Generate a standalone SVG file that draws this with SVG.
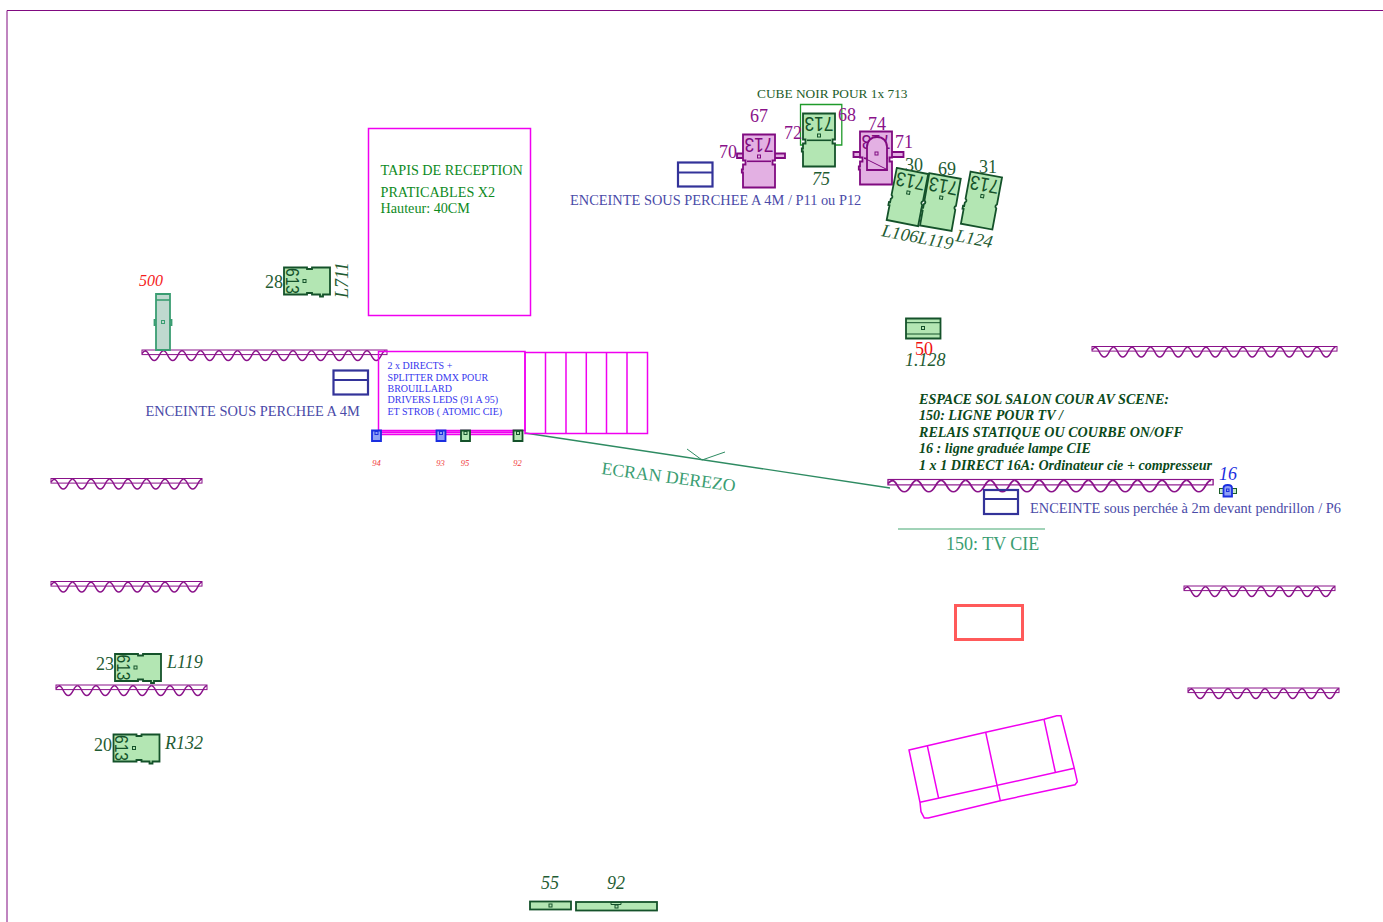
<svg xmlns="http://www.w3.org/2000/svg" width="1383" height="922" viewBox="0 0 1383 922">
<style>
text{font-family:"Liberation Serif","Times New Roman",serif}
.gr{color:#14522a;fill:#b3e6b3}
.pk{color:#800a80;fill:#e3b0e3}
.bl{color:#1a2ee0;fill:#8fa0f5}
.tl{color:#3a9d72;fill:#bfd9cf}
.b{stroke:currentColor;stroke-width:1.8;stroke-linejoin:miter}
.th{fill:none;stroke:currentColor;stroke-width:1.6}
.sq{fill:none;stroke:currentColor;stroke-width:1}
.lb{fill:currentColor;stroke:none;font-family:"Liberation Sans",Arial,sans-serif}
.wave{fill:none;stroke:#8a128a;stroke-width:1.4}
.band{fill:none;stroke:#8a128a;stroke-width:1}
.mg{fill:none;stroke:#f000f0;stroke-width:1.5}
.spk{fill:none;stroke:#333399;stroke-width:2.2}
.pt{font-size:18px;fill:#8a128a}
.dk{font-size:18px;fill:#1f5c33}
.it{font-size:18px;font-style:italic;fill:#1f5c33}
.ind{font-size:14.4px;fill:#4a4aa8}
.red{font-size:8.5px;font-style:italic;fill:#f03a3a}
.blt{font-size:10px;fill:#3636ee}
.note{font-size:14.1px;font-weight:bold;font-style:italic;fill:#0b4a1a}
.tp{font-size:14.2px;fill:#0e8a1e}
</style>
<defs>
<path id="sc" class="wave" d="M0,0.8c4,0 4.6,9.7 9.25,9.7c4.65,0 5.25,-9.7 9.25,-9.7"/>
<g id="w4"><use href="#sc"/><use href="#sc" x="18.5"/><use href="#sc" x="37"/><use href="#sc" x="55.5"/></g>
<g id="c8"><rect class="band" x="0" y="0" width="151" height="4.6"/><path class="wave" d="M0,3.5Q2,0.8 4,0.8"/><use href="#w4" x="3"/><use href="#w4" x="77"/></g>
<g id="c13"><rect class="band" x="0" y="0" width="245" height="4.6"/><path class="wave" d="M0,3.5Q2,0.8 4,0.8"/><use href="#w4" x="3"/><use href="#w4" x="77"/><use href="#w4" x="151"/><use href="#sc" x="225"/></g>
<g id="p713">
<path class="b" d="M-16,0H16V26H13.5V30H16V53H-16V38H-17.2V35H-16V30H-13.5V26H-16Z"/>
<path class="th" d="M-12,26.8H12"/>
<rect class="sq" x="-1.500" y="20.500" width="3" height="3"/>
<text class="lb" transform="translate(0,3.500) rotate(180)" text-anchor="middle" font-size="20" textLength="29" lengthAdjust="spacingAndGlyphs">713</text>
</g>
<g id="p713b">
<path class="b" d="M-16,0H16V27.500Q13.500,29.500 16,31.500V53H-16V38H-17.200V35H-16V31.500Q-13.500,29.500 -16,27.500Z"/>
<rect class="sq" x="-1.500" y="20.500" width="3" height="3"/>
<text class="lb" transform="translate(0,3.500) rotate(180)" text-anchor="middle" font-size="20" textLength="29" lengthAdjust="spacingAndGlyphs">713</text>
</g>
<g id="p613">
<path class="b" d="M0,-13.500H23V-12H28V-13.500H46V13.500H39V15.500H36V13.500H28V12H23V13.500H0Z"/>
<rect class="sq" x="19" y="-1.500" width="3" height="3"/>
<text class="lb" transform="translate(1.500,0) rotate(90)" text-anchor="middle" font-size="19" textLength="26" lengthAdjust="spacingAndGlyphs">613</text>
</g>
<g id="mini">
<path class="b" d="M-4.500,0H4.500V10.500H-4.500Z" stroke-width="1.400"/>
<rect class="sq" x="-1.500" y="1" width="3" height="3"/>
</g>
</defs>
<g id="frame"><path d="M7,922V10.500H1383" fill="none" stroke="#800a80" stroke-width="1"/></g>
<g id="curtains">
<use id="curtain-1" href="#c13" x="142" y="350"/>
<use id="curtain-2" href="#c13" x="1092" y="346.500"/>
<use id="curtain-3" href="#c8" x="51" y="478.500"/>
<use id="curtain-4" href="#c8" x="51" y="581.500"/>
<use id="curtain-5" href="#c8" x="56" y="685"/>
<use id="curtain-6" href="#c13" transform="translate(888,479.500) scale(1.327,1.170)"/>
<use id="curtain-7" href="#c8" x="1184" y="586"/>
<use id="curtain-8" href="#c8" x="1188" y="688"/>
</g>
<g id="connectors">
<path d="M525,433L890,488" fill="none" stroke="#2e8b62" stroke-width="1.300"/>
<path d="M687,449L702,460L725,452" fill="none" stroke="#2e8b62" stroke-width="1"/>
</g>
<g id="tapis">
<rect class="mg" x="368.500" y="128.500" width="162" height="187"/>
<text class="tp" x="380.500" y="174.500">TAPIS DE RECEPTION</text>
<text class="tp" x="380.500" y="197">PRATICABLES X2</text>
<text class="tp" x="380.500" y="213">Hauteur: 40CM</text>
</g>
<g id="scene">
<rect class="mg" x="378.500" y="351.500" width="146.500" height="79"/>
<path class="mg" d="M378,430.800H523M378,432.600H523M378,434.500H523" stroke-width="1"/>
<rect class="mg" x="525" y="352.500" width="122.500" height="81"/>
<path class="mg" d="M545.500,352.500V433.500M566,352.500V433.500M586.300,352.500V433.500M606.500,352.500V433.500M627,352.500V433.500"/>
<text class="blt" x="387.500" y="369">2 x DIRECTS +</text>
<text class="blt" x="387.500" y="381">SPLITTER DMX POUR</text>
<text class="blt" x="387.500" y="392">BROUILLARD</text>
<text class="blt" x="387.500" y="403">DRIVERS LEDS (91 A 95)</text>
<text class="blt" x="387.500" y="415">ET STROB ( ATOMIC CIE)</text>
</g>
<g id="u94" class="bl"><use href="#mini" x="376.500" y="430.500"/><text class="red" x="376.500" y="466" text-anchor="middle">94</text></g>
<g id="u93" class="bl"><use href="#mini" x="441" y="430.500"/><text class="red" x="440.500" y="466" text-anchor="middle">93</text></g>
<g id="u95" class="gr"><use href="#mini" x="465.500" y="430.500"/><text class="red" x="465" y="466" text-anchor="middle">95</text></g>
<g id="u92" class="gr"><use href="#mini" x="518" y="430.500"/><text class="red" x="517.500" y="466" text-anchor="middle">92</text></g>
<g id="cube"><path d="M805,145H800.500V104.500H841.800V145H833" fill="none" stroke="#1f9a2a" stroke-width="1.300"/>
<text x="757" y="98" font-size="13.350" fill="#1d5c2a">CUBE NOIR POUR 1x 713</text></g>
<g id="n67" class="pk">
<path class="b" d="M737,153.500H785V158H737Z"/>
<use href="#p713" x="759" y="134.500"/>
<text class="pt" x="750" y="122">67</text><text class="pt" x="719" y="158">70</text>
</g>
<g id="n75" class="gr">
<use href="#p713" x="819" y="113.500"/>
<text class="pt" x="784" y="139">72</text><text class="pt" x="838" y="121">68</text>
<text class="it" x="812" y="185">75</text>
</g>
<g id="n74" class="pk">
<path class="b" d="M853.500,152H903.500V157H853.500Z"/>
<use href="#p713" x="876" y="131.500"/>
<path class="b" d="M867,170V147C867,141 871,137 877,137C883,137 887,141 887,147V170Z"/>
<path d="M864,158L888,170" fill="none" stroke="currentColor" stroke-width="1"/>
<rect class="sq" x="875" y="152" width="3" height="3"/>
<text class="pt" x="868" y="130">74</text><text class="pt" x="895" y="148">71</text>
</g>
<g id="n30" class="gr"><use href="#p713b" transform="translate(912.500,171) rotate(11)"/><text class="dk" x="905" y="171">30</text>
<text class="it" transform="translate(881,236) rotate(11)">L106</text></g>
<g id="n69" class="gr"><use href="#p713b" transform="translate(945,176) rotate(10)"/><text class="dk" x="938" y="175">69</text>
<text class="it" transform="translate(917,243) rotate(11)">L119</text></g>
<g id="n31" class="gr"><use href="#p713b" transform="translate(986.300,174.500) rotate(10.500)"/><text class="dk" x="979" y="173">31</text>
<text class="it" transform="translate(955,241) rotate(11)">L124</text></g>
<g id="spk1"><rect class="spk" x="678" y="162.500" width="34.500" height="24"/><path class="spk" d="M678,172.500H712.500" stroke-width="1.300"/>
<text class="ind" x="570" y="205">ENCEINTE SOUS PERCHEE A 4M / P11 ou P12</text></g>
<g id="spk2"><rect class="spk" x="333.500" y="370.500" width="34.500" height="24"/><path class="spk" d="M333.500,380H368" stroke-width="1.300"/>
<text class="ind" x="145.500" y="416">ENCEINTE SOUS PERCHEE A 4M</text></g>
<g id="spk3"><rect class="spk" x="984" y="490" width="34" height="24"/><path class="spk" d="M984,499H1018" stroke-width="1.300"/>
<text class="ind" x="1030" y="513">ENCEINTE sous perchée à 2m devant pendrillon / P6</text></g>
<g id="n500" class="tl">
<path class="b" d="M154.500,320H171.500V325H154.500Z" stroke-width="1"/>
<path class="b" d="M156,294H170V350H156Z"/><path class="th" d="M156,300H170"/>
<rect class="sq" x="161.500" y="320.500" width="3" height="3"/>
<text x="139" y="286" font-size="16" font-style="italic" fill="#f51c1c">500</text>
</g>
<g id="n28" class="gr"><use href="#p613" x="284" y="281"/><text class="dk" x="265" y="288">28</text>
<text class="it" transform="translate(348,298) rotate(-90)">L711</text></g>
<g id="n23" class="gr"><use href="#p613" x="115" y="667.500"/><text class="dk" x="96" y="670">23</text>
<text class="it" x="167" y="668">L119</text></g>
<g id="n20" class="gr"><use href="#p613" x="113.500" y="748"/><text class="dk" x="94" y="751">20</text>
<text class="it" x="165" y="749">R132</text></g>
<g id="n50" class="gr">
<path class="b" d="M906,318.500H940.500V338.500H906Z"/><path class="sq" d="M906,322.700H940.500M906,334H940.500"/>
<rect class="sq" x="921.500" y="326.500" width="3" height="3"/>
<text x="915" y="355" font-size="18" fill="#f01010">50</text>
<text class="it" x="905" y="366">1.128</text>
</g>
<g id="note">
<text class="note" x="919" y="404">ESPACE SOL SALON COUR AV SCENE:</text>
<text class="note" x="919" y="420">150: LIGNE POUR TV /</text>
<text class="note" x="919" y="437">RELAIS STATIQUE OU COURBE ON/OFF</text>
<text class="note" x="919" y="453">16 : ligne graduée lampe CIE</text>
<text class="note" x="919" y="470">1 x 1 DIRECT 16A: Ordinateur cie + compresseur</text>
</g>
<g id="n16" class="bl">
<rect x="1219.500" y="488.500" width="17" height="5" fill="#c8e8c8" stroke="#1b5e2a" stroke-width="1"/>
<path class="b" d="M1223.500,496.500V488C1223.500,484 1232,484 1232,488V496.500Z" stroke-width="1"/>
<rect class="sq" x="1226.500" y="489" width="2.500" height="2.500"/>
<text x="1219" y="480" font-size="18" font-style="italic" fill="#1a2ee0">16</text>
</g>
<g id="ecran"><text transform="translate(601,474) rotate(7.500)" font-size="17.800" fill="#3a9d72">ECRAN DEREZO</text></g>
<g id="tv"><path d="M898,529H1045" stroke="#82c4a0" stroke-width="1.300" fill="none"/>
<text x="946" y="550" font-size="18" fill="#3a9d72">150: TV CIE</text></g>
<g id="red-box"><rect x="955.500" y="605.500" width="67" height="34" fill="none" stroke="#ff5a5a" stroke-width="3"/></g>
<g id="sofa">
<path class="mg" d="M909,750L927.300,745.700L985.700,732.300L1044,719.300L1056.700,715.700L1061,715.700L1074.300,768.300L1077.300,781.700L1075,784.700L1000.300,800.700L928.300,818L924.300,818L921,811.700L920,802.300Z"/>
<path class="mg" stroke-width="1.100" d="M920,802.300L1074.300,768.300M927.300,745.700L938.700,798.700M985.700,732.300L1000.300,800.700M1044,719.300L1055.300,772"/>
</g>
<g id="n55" class="gr">
<rect class="b" x="530" y="901.500" width="41" height="8"/><rect class="sq" x="549" y="904" width="3" height="3"/>
<text class="it" x="541" y="889">55</text>
</g>
<g id="n92b" class="gr">
<rect class="b" x="576" y="902" width="81" height="8.500"/><rect class="sq" x="615" y="905" width="3" height="3"/>
<path class="sq" d="M611,902.500h10v2h-10z"/>
<text class="it" x="607" y="889">92</text>
</g>
</svg>
